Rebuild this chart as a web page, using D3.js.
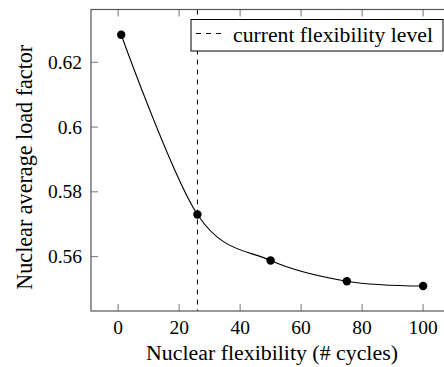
<!DOCTYPE html>
<html><head><meta charset="utf-8">
<script src="https://cdn.jsdelivr.net/npm/d3@7"></script>
<style>
html,body{margin:0;padding:0;background:#fff;}
svg{display:block;}
</style></head>
<body>
<script>
const cycles = [1, 26, 50, 75, 100];
const loadFactor = [0.6285, 0.573, 0.5588, 0.5524, 0.5509];
const currentLevel = 26;
const xTicks = [0, 20, 40, 60, 80, 100];
const yTicks = [0.56, 0.58, 0.6, 0.62];
const yTickLabels = ["0.56", "0.58", "0.6", "0.62"];
const xLabel = "Nuclear flexibility (# cycles)";
const yLabel = "Nuclear average load factor";
const legendLabel = "current flexibility level";

const W = 444, H = 367;
const FF = '"Liberation Serif", serif';
const svg = d3.select("body").append("svg").attr("width", W).attr("height", H);

const L = 91, R = 453.3, T = 9.5, B = 311;
const x = d3.scaleLinear().domain([-8.9, 109.9]).range([L, R]);
const y = d3.scaleLinear().domain([0.5432, 0.6363]).range([B, T]);
const fs = 19.5;

function txt(sel, size) {
  return sel.append("text").style("font-family", FF).style("font-size", size + "px").attr("fill", "#000");
}
// fit a text to a target width by adjusting its font size
function fit(t, target) {
  const w = t.node().getComputedTextLength();
  if (w > 0) {
    const s = parseFloat(t.style("font-size"));
    t.style("font-size", (s * target / w) + "px");
  }
  return t;
}

// ticks (inside, mirrored)
const tl = 7;
const tg = svg.append("g").attr("stroke", "#777").attr("stroke-width", 1);
xTicks.forEach(v => {
  tg.append("line").attr("x1", x(v)).attr("x2", x(v)).attr("y1", B).attr("y2", B - tl);
  tg.append("line").attr("x1", x(v)).attr("x2", x(v)).attr("y1", T).attr("y2", T + tl);
});
yTicks.forEach(v => {
  tg.append("line").attr("x1", L).attr("x2", L + tl).attr("y1", y(v)).attr("y2", y(v));
  tg.append("line").attr("x1", R).attr("x2", R - tl).attr("y1", y(v)).attr("y2", y(v));
});

// tick labels
xTicks.forEach(v => {
  txt(svg, fs).attr("x", x(v)).attr("y", 333.5).attr("text-anchor", "middle").text(v);
});
yTicks.forEach((v, i) => {
  txt(svg, fs).attr("x", 82).attr("y", y(v) + 6.5).attr("text-anchor", "end").text(yTickLabels[i]);
});

// dashed vertical line
svg.append("line").attr("x1", x(currentLevel)).attr("x2", x(currentLevel))
  .attr("y1", T).attr("y2", B).attr("stroke", "#000").attr("stroke-width", 1)
  .attr("stroke-dasharray", "5,5");

// smooth line
const pts = cycles.map((c, i) => [x(c), y(loadFactor[i])]);
svg.append("path").attr("d", d3.line().curve(d3.curveCatmullRom.alpha(0))(pts))
  .attr("fill", "none").attr("stroke", "#000").attr("stroke-width", 1.1);
svg.selectAll("circle.pt").data(pts).enter().append("circle")
  .attr("cx", d => d[0]).attr("cy", d => d[1]).attr("r", 4.2).attr("fill", "#000");

// axis box
svg.append("rect").attr("x", L).attr("y", T).attr("width", R - L).attr("height", B - T)
  .attr("fill", "none").attr("stroke", "#555").attr("stroke-width", 1.2);

// legend
const lg = svg.append("g");
lg.append("rect").attr("x", 191).attr("y", 19.5).attr("width", 252).attr("height", 31.5)
  .attr("fill", "#fff").attr("stroke", "#000").attr("stroke-width", 1);
lg.append("line").attr("x1", 196).attr("x2", 224).attr("y1", 33.5).attr("y2", 33.5)
  .attr("stroke", "#000").attr("stroke-width", 1).attr("stroke-dasharray", "5,5");
fit(txt(lg, fs).attr("x", 233).attr("y", 41.5).text(legendLabel), 200);

// axis titles
fit(txt(svg, fs).attr("x", 272).attr("y", 360).attr("text-anchor", "middle").text(xLabel), 252);
fit(txt(svg, fs).attr("transform", `translate(31.5,${(T + B) / 2 + 7}) rotate(-90)`)
  .attr("text-anchor", "middle").text(yLabel), 245);
</script>
</body></html>
